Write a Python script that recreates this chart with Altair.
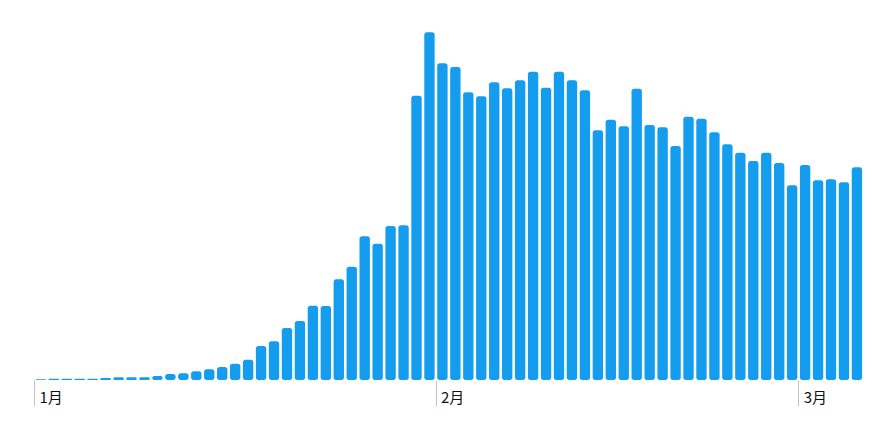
import altair as alt
import pandas as pd

# Daily values (Jan 1 – Mar 5)
jan_values = [0.8, 1.2, 1.2, 1.2, 1.2, 2.0, 2.7, 2.7, 2.7, 4.0,
              6.0, 6.7, 8.7, 10.7, 13.0, 16.3, 20.3, 34.0, 38.7, 52.0,
              59.0, 74.3, 74.0, 100.7, 113.3, 143.7, 136.3, 154.0, 154.7, 284.3,
              347.7]
feb_values = [316.7, 313.0, 287.7, 283.7, 297.7, 291.7, 299.7, 308.3, 292.3, 308.3,
              299.7, 289.7, 249.7, 260.3, 253.7, 291.3, 255.0, 252.7, 234.0, 263.3,
              261.3, 247.7, 235.7, 227.3, 219.0, 227.3, 217.0, 194.7]
mar_values = [215.0, 199.7, 200.7, 197.7, 212.7]

values = jan_values + feb_values + mar_values
start_date = pd.Timestamp("2021-01-01")
dates = pd.date_range(start_date, periods=len(values), freq="D")

month_starts = ["2021-01-01", "2021-02-01", "2021-03-01"]
month_labels = ["1月", "2月", "3月"]

day_index = [(d - start_date).days for d in dates]
df = pd.DataFrame({
    "date": [d.strftime("%Y-%m-%d") for d in dates],
    "day": day_index,
    "value": values,
})
df["x0"] = df["day"] + 0.13
df["x1"] = df["day"] + 0.93

tick_days = [(pd.Timestamp(m) - start_date).days for m in month_starts]
label_expr = " : ".join(
    f"datum.value == {d} ? '{lab}'" for d, lab in zip(tick_days, month_labels)
) + " : ''"

chart = alt.Chart(df).mark_bar(
    color="#149cef", cornerRadius=2.5
).encode(
    x=alt.X(
        "x0:Q",
        scale=alt.Scale(domain=[0, len(values)], nice=False, zero=False),
        axis=alt.Axis(
            values=tick_days,
            labelExpr=label_expr,
            title=None,
            domain=False,
            grid=False,
            tickSize=26,
            tickColor="#c4c4c4",
            tickWidth=1,
            labelAlign="left",
            labelOffset=5,
            labelPadding=-16,
            labelFontSize=15,
            labelFont="Noto Sans CJK SC",
            labelColor="#111111",
            labelFlush=False,
            labelOverlap=False,
        ),
    ),
    x2="x1:Q",
    y=alt.Y("value:Q", scale=alt.Scale(domain=[0, 350], nice=False), axis=None),
    y2=alt.datum(0),
).properties(
    width=829,
    height=350,
    padding={"left": 25, "top": 22, "right": 20, "bottom": 5},
).configure_view(stroke=None)

chart.save("out.html", embed_options={"renderer": "svg", "actions": False})
